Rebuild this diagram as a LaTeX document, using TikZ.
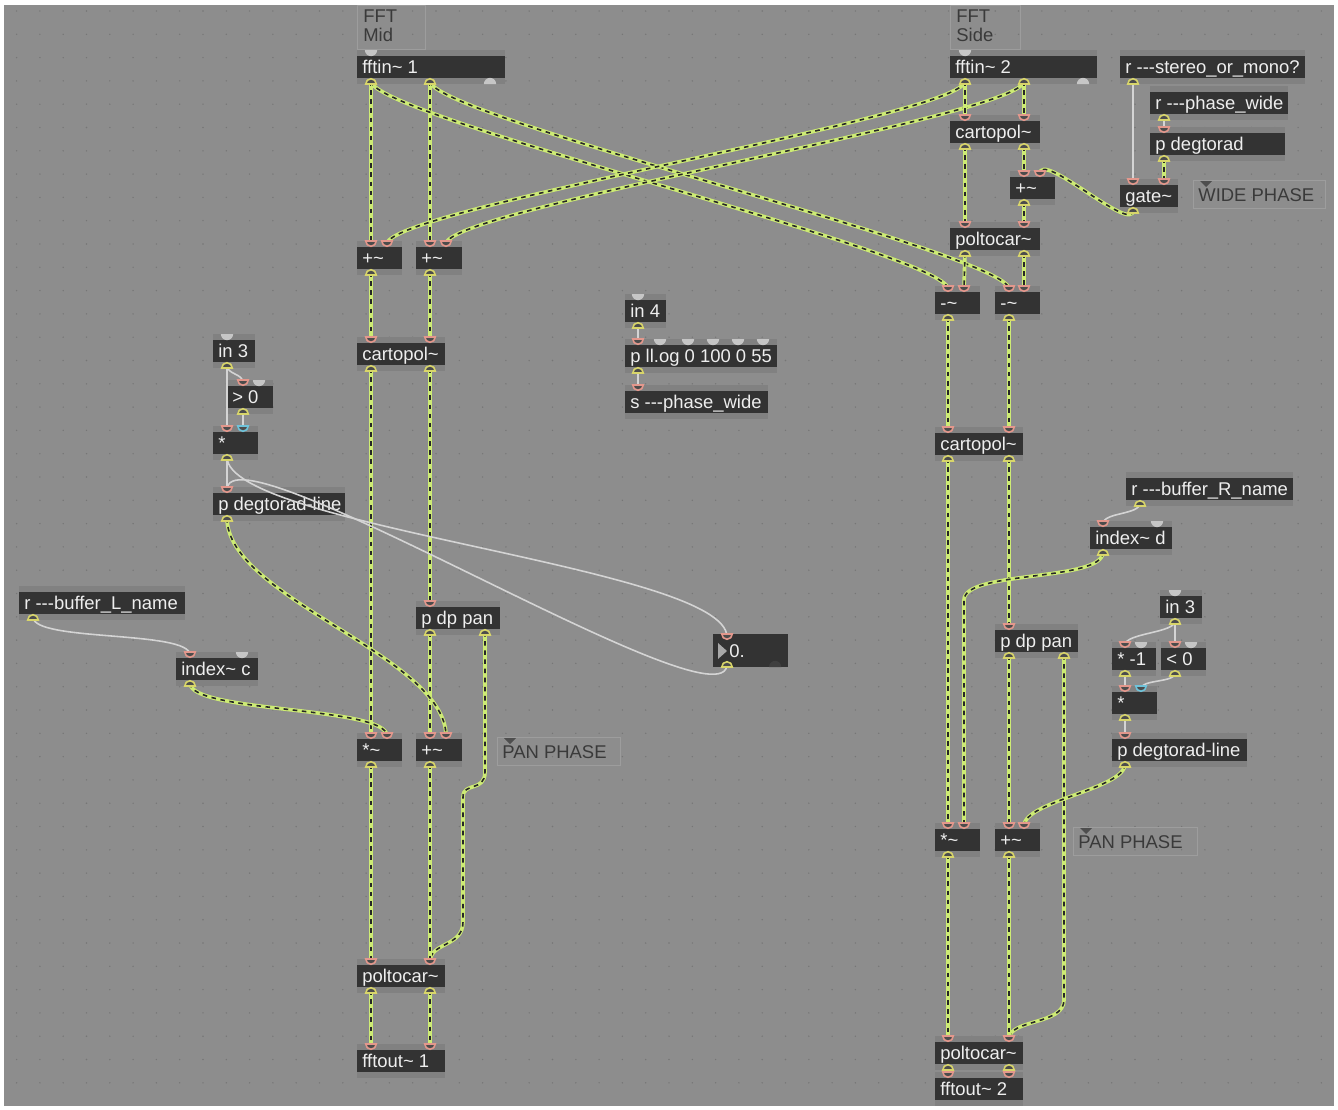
\documentclass[tikz,border=0pt]{standalone}
\usepackage{fontspec}
\setmainfont{Liberation Sans}
\usetikzlibrary{calc}
\definecolor{patchbg}{HTML}{8D8D8D}
\definecolor{band}{HTML}{818181}
\definecolor{objfill}{HTML}{333333}
\definecolor{objtext}{HTML}{EEEEEE}
\definecolor{sigcol}{HTML}{CDEB74}
\definecolor{ctlcol}{HTML}{D4D4D4}
\definecolor{inpink}{HTML}{E3978C}
\definecolor{outyel}{HTML}{D8D56A}
\definecolor{inblue}{HTML}{6FC3DA}
\definecolor{offgray}{HTML}{C6C6C6}
\definecolor{cmttext}{HTML}{3A3A3A}
\definecolor{griddot}{HTML}{767676}

\pgfdeclarelayer{ports}
\pgfsetlayers{main,ports}

\newcommand\tild{\textasciitilde}
\newcommand\dashes{-{}-{}-}
% object: name, x1, y1, x2, y2, label (pixel units)
\newcommand\maxobj[6]{%
  \node[objbox, anchor=north west, minimum width={(#4-#2)*0.02cm},
    minimum height={(#5-#3)*0.02cm}] (#1) at (#2,#3) {};
  \fill[objfill] (#2,#3+6) rectangle (#4,#5-6);
  \node[objlabel, anchor=base west] (#1-t) at ({#2+5},{(#3+#5)/2+6}) {#6};
}
\newcommand\inl[4][inport]{%
  \coordinate (#2) at (#3,#4+3);
  \begin{pgfonlayer}{ports}
  \filldraw[#1] (#3,#4) ++(-3pt,0) arc[start angle=180, end angle=360, radius=3pt] -- cycle;
  \end{pgfonlayer}}
\newcommand\outl[3]{%
  \coordinate (#1) at (#2,#3-3);
  \begin{pgfonlayer}{ports}
  \filldraw[outport] (#2,#3) ++(-3pt,0) arc[start angle=180, end angle=0, radius=3pt] -- cycle;
  \end{pgfonlayer}}
\newcommand\offin[2]{%
  \fill[offgray] (#1,#2) ++(-3.5pt,0) arc[start angle=180, end angle=360, radius=3.5pt] -- cycle;}
\newcommand\offout[2]{%
  \fill[offgray] (#1,#2) ++(-3.5pt,0) arc[start angle=180, end angle=0, radius=3.5pt] -- cycle;}
\newcommand\cmttri[2]{%
  \fill[black!45!patchbg] (#1,#2) -- ++(12,0) -- ++(-6,6) -- cycle;}

\begin{document}
\begin{tikzpicture}[
  x=0.02cm, y=-0.02cm,
  objbox/.style={fill=band, inner sep=0pt, outer sep=0pt},
  objlabel/.style={text=objtext, inner sep=0pt, font=\fontsize{10.5}{12}\selectfont},
  cmtbox/.style={draw=white!14!patchbg, line width=0.5pt, inner sep=0pt},
  cmtlabel/.style={text=cmttext, inner sep=0pt, align=left,
    font=\fontsize{10.5}{10.8}\selectfont},
  inport/.style={draw=inpink, fill=black!70, line width=0.9pt},
  blueport/.style={draw=inblue, fill=black!70, line width=0.9pt},
  outport/.style={draw=outyel, fill=black!70, line width=0.9pt},
  sig/.style={draw=sigcol, line width=2.1pt,
    postaction={draw=black!85, line width=0.9pt, dash pattern=on 2.6pt off 2.6pt}},
  ctl/.style={draw=ctlcol, line width=0.9pt}
]
\useasboundingbox (0,0) rectangle (1338,1109);
\fill[white] (0,0) rectangle (1338,1109);
\fill[patchbg] (4,5) rectangle (1334,1106);
\foreach \i in {0,...,56}
  \foreach \j in {0,...,46}
    \fill[griddot] (16.6+\i*23.3,11+\j*23.3) circle (0.45pt);

% comments
\node[cmtbox, anchor=north west, minimum width=1.36cm, minimum height=0.88cm] (cmtMid) at (357,5) {};
\node[cmtlabel, anchor=north west] (cmtMid-t) at (363,9) {FFT\\Mid};
\node[cmtbox, anchor=north west, minimum width=1.4cm, minimum height=0.88cm] (cmtSide) at (950,5) {};
\node[cmtlabel, anchor=north west] (cmtSide-t) at (956,9) {FFT\\Side};
\node[cmtbox, anchor=north west, minimum width=2.64cm, minimum height=0.56cm] (cmtWide) at (1193,180) {};
\node[cmtlabel, anchor=base west] (cmtWide-t) at (1198,201) {WIDE PHASE};
\cmttri{1200}{181}
\node[cmtbox, anchor=north west, minimum width=2.46cm, minimum height=0.56cm] (cmtPanM) at (497,737) {};
\node[cmtlabel, anchor=base west] (cmtPanM-t) at (502,758) {PAN PHASE};
\cmttri{504}{738}
\node[cmtbox, anchor=north west, minimum width=2.48cm, minimum height=0.56cm] (cmtPanS) at (1073,827) {};
\node[cmtlabel, anchor=base west] (cmtPanS-t) at (1078,848) {PAN PHASE};
\cmttri{1080}{828}

% mid column
\maxobj{fftinM}{357}{50}{505}{84}{fftin\tild\ 1}
\offin{371}{50} \outl{fftinM-o0}{371}{84} \outl{fftinM-o1}{430}{84} \offout{490}{84}
\maxobj{addML}{357}{241}{402}{275}{+\tild}
\inl{addML-i0}{371}{241} \inl{addML-i1}{387}{241} \outl{addML-o}{371}{275}
\maxobj{addMR}{416}{241}{462}{275}{+\tild}
\inl{addMR-i0}{430}{241} \inl{addMR-i1}{446}{241} \outl{addMR-o}{430}{275}
\maxobj{cartM}{357}{337}{445}{371}{cartopol\tild}
\inl{cartM-i0}{371}{337} \inl{cartM-i1}{430}{337} \outl{cartM-o0}{371}{371} \outl{cartM-o1}{430}{371}
\maxobj{panM}{416}{601}{500}{635}{p dp pan}
\inl{panM-i}{430}{601} \outl{panM-o0}{430}{635} \outl{panM-o1}{485}{635}
\maxobj{mulM}{357}{733}{402}{767}{*\tild}
\inl{mulM-i0}{371}{733} \inl{mulM-i1}{387}{733} \outl{mulM-o}{371}{767}
\maxobj{addM}{416}{733}{462}{767}{+\tild}
\inl{addM-i0}{430}{733} \inl{addM-i1}{446}{733} \outl{addM-o}{430}{767}
\maxobj{polM}{357}{959}{445}{993}{poltocar\tild}
\inl{polM-i0}{371}{959} \inl{polM-i1}{430}{959} \outl{polM-o0}{371}{993} \outl{polM-o1}{430}{993}
\maxobj{outM}{357}{1044}{445}{1078}{fftout\tild\ 1}
\inl{outM-i0}{371}{1044} \inl{outM-i1}{430}{1044}

% left pan control
\maxobj{in3L}{213}{334}{255}{368}{in 3}
\offin{227}{334} \outl{in3L-o}{227}{368}
\maxobj{gt0}{227}{380}{273}{414}{> 0}
\inl{gt0-i0}{243}{380} \offin{259}{380} \outl{gt0-o}{243}{414}
\maxobj{mulL}{213}{426}{258}{460}{*}
\inl{mulL-i0}{227}{426} \inl[blueport]{mulL-i1}{243}{426} \outl{mulL-o}{227}{460}
\maxobj{dtlL}{213}{487}{345}{521}{p degtorad-line}
\inl{dtlL-i}{227}{487} \outl{dtlL-o}{227}{521}
\maxobj{rBufL}{19}{586}{185}{620}{r \dashes buffer\_L\_name}
\outl{rBufL-o}{33}{620}
\maxobj{idxC}{176}{652}{258}{686}{index\tild\ c}
\inl{idxC-i0}{190}{652} \offin{242}{652} \outl{idxC-o}{190}{686}
\node[objbox, fill=objfill, anchor=north west, minimum width=1.5cm, minimum height=0.66cm] (numbox) at (713,634) {};
\fill[offgray!85!black] (718,643) -- (727,651) -- (718,659) -- cycle;
\node[objlabel, anchor=base west] (numbox-t) at (729,657) {0.};
\inl{numbox-i}{727}{634} \outl{numbox-o}{727}{667}
\fill[black!55!patchbg] (769,667) arc[start angle=180, end angle=0, radius=3.5pt] -- cycle;

% centre
\maxobj{in4}{625}{294}{666}{328}{in 4}
\offin{638}{294} \outl{in4-o}{638}{328}
\maxobj{pllog}{625}{339}{777}{373}{p ll.og 0 100 0 55}
\inl{pllog-i}{638}{339} \offin{660}{339} \offin{688}{339} \offin{713}{339} \offin{738}{339} \offin{763}{339}
\outl{pllog-o}{638}{373}
\maxobj{sWide}{625}{385}{768}{419}{s \dashes phase\_wide}
\inl{sWide-i}{638}{385}

% side column
\maxobj{fftinS}{950}{50}{1097}{84}{fftin\tild\ 2}
\offin{965}{50} \outl{fftinS-o0}{965}{84} \outl{fftinS-o1}{1024}{84} \offout{1083}{84}
\maxobj{cartS1}{950}{115}{1040}{149}{cartopol\tild}
\inl{cartS1-i0}{965}{115} \inl{cartS1-i1}{1024}{115} \outl{cartS1-o0}{965}{149} \outl{cartS1-o1}{1024}{149}
\maxobj{addS}{1010}{171}{1055}{205}{+\tild}
\inl{addS-i0}{1024}{171} \inl{addS-i1}{1040}{171} \outl{addS-o}{1024}{205}
\maxobj{polS1}{950}{222}{1040}{256}{poltocar\tild}
\inl{polS1-i0}{965}{222} \inl{polS1-i1}{1024}{222} \outl{polS1-o0}{965}{256} \outl{polS1-o1}{1024}{256}
\maxobj{subL}{935}{286}{980}{320}{-\tild}
\inl{subL-i0}{948}{286} \inl{subL-i1}{964}{286} \outl{subL-o}{948}{320}
\maxobj{subR}{995}{286}{1040}{320}{-\tild}
\inl{subR-i0}{1009}{286} \inl{subR-i1}{1024}{286} \outl{subR-o}{1009}{320}
\maxobj{cartS2}{935}{427}{1023}{461}{cartopol\tild}
\inl{cartS2-i0}{948}{427} \inl{cartS2-i1}{1009}{427} \outl{cartS2-o0}{948}{461} \outl{cartS2-o1}{1009}{461}
\maxobj{panS}{995}{624}{1078}{658}{p dp pan}
\inl{panS-i}{1009}{624} \outl{panS-o0}{1009}{658} \outl{panS-o1}{1064}{658}
\maxobj{mulS}{935}{823}{980}{857}{*\tild}
\inl{mulS-i0}{948}{823} \inl{mulS-i1}{964}{823} \outl{mulS-o}{948}{857}
\maxobj{addS2}{995}{823}{1040}{857}{+\tild}
\inl{addS2-i0}{1009}{823} \inl{addS2-i1}{1024}{823} \outl{addS2-o}{1009}{857}
\maxobj{polS2}{935}{1036}{1023}{1070}{poltocar\tild}
\inl{polS2-i0}{948}{1036} \inl{polS2-i1}{1009}{1036} \outl{polS2-o0}{948}{1070} \outl{polS2-o1}{1009}{1070}
\maxobj{outS}{935}{1072}{1023}{1106}{fftout\tild\ 2}
\inl{outS-i0}{948}{1072} \inl{outS-i1}{1009}{1072}

% wide phase
\maxobj{rStereo}{1120}{50}{1305}{84}{r \dashes stereo\_or\_mono?}
\outl{rStereo-o}{1133}{84}
\maxobj{rWide}{1150}{86}{1288}{120}{r \dashes phase\_wide}
\outl{rWide-o}{1164}{120}
\maxobj{pDeg}{1150}{127}{1285}{161}{p degtorad}
\inl{pDeg-i}{1164}{127} \outl{pDeg-o}{1164}{161}
\maxobj{gate}{1120}{179}{1178}{213}{gate\tild}
\inl{gate-i0}{1133}{179} \inl{gate-i1}{1164}{179} \outl{gate-o}{1133}{213}

% right pan control
\maxobj{rBufR}{1126}{472}{1293}{506}{r \dashes buffer\_R\_name}
\outl{rBufR-o}{1140}{506}
\maxobj{idxD}{1090}{521}{1172}{555}{index\tild\ d}
\inl{idxD-i0}{1103}{521} \offin{1157}{521} \outl{idxD-o}{1103}{555}
\maxobj{in3R}{1160}{590}{1202}{624}{in 3}
\offin{1175}{590} \outl{in3R-o}{1175}{624}
\maxobj{mulNeg}{1112}{642}{1156}{676}{* -1}
\inl{mulNeg-i0}{1125}{642} \offin{1141}{642} \outl{mulNeg-o}{1125}{676}
\maxobj{lt0}{1161}{642}{1206}{676}{< 0}
\inl{lt0-i0}{1175}{642} \offin{1191}{642} \outl{lt0-o}{1175}{676}
\maxobj{mulR}{1112}{686}{1157}{720}{*}
\inl{mulR-i0}{1125}{686} \inl[blueport]{mulR-i1}{1141}{686} \outl{mulR-o}{1125}{720}
\maxobj{dtlR}{1112}{733}{1247}{767}{p degtorad-line}
\inl{dtlR-i}{1125}{733} \outl{dtlR-o}{1125}{767}

% signal cords
\draw[sig] (fftinM-o0) -- (addML-i0);
\draw[sig] (fftinM-o1) -- (addMR-i0);
\draw[sig] (fftinM-o0) .. controls +(0,35) and +(0,-35) .. (subL-i0);
\draw[sig] (fftinM-o1) .. controls +(0,35) and +(0,-35) .. (subR-i0);
\draw[sig] (fftinS-o0) .. controls +(0,35) and +(0,-35) .. (addML-i1);
\draw[sig] (fftinS-o1) .. controls +(0,35) and +(0,-35) .. (addMR-i1);
\draw[sig] (fftinS-o0) -- (cartS1-i0);
\draw[sig] (fftinS-o1) -- (cartS1-i1);
\draw[sig] (cartS1-o0) -- (polS1-i0);
\draw[sig] (cartS1-o1) -- (addS-i0);
\draw[sig] (gate-o) .. controls +(0,25) and +(0,-25) .. (addS-i1);
\draw[sig] (addS-o) -- (polS1-i1);
\draw[sig] (pDeg-o) -- (gate-i1);
\draw[sig] (polS1-o0) -- (subL-i1);
\draw[sig] (polS1-o1) -- (subR-i1);
\draw[sig] (subL-o) -- (cartS2-i0);
\draw[sig] (subR-o) -- (cartS2-i1);
\draw[sig] (cartS2-o0) -- (mulS-i0);
\draw[sig] (cartS2-o1) -- (panS-i);
\draw[sig] (idxD-o) .. controls +(0,30) and +(0,-30) .. ($(mulS-i1)+(0,-226)$) -- (mulS-i1);
\draw[sig] (panS-o0) -- (addS2-i0);
\draw[sig] (panS-o1) -- ++(0,345) .. controls +(0,25) and +(0,-20) .. (polS2-i1);
\draw[sig] (dtlR-o) .. controls +(0,25) and +(0,-25) .. (addS2-i1);
\draw[sig] (mulS-o) -- (polS2-i0);
\draw[sig] (addS2-o) -- (polS2-i1);
\draw[sig] (polS2-o0) -- (outS-i0);
\draw[sig] (polS2-o1) -- (outS-i1);
\draw[sig] (addML-o) -- (cartM-i0);
\draw[sig] (addMR-o) -- (cartM-i1);
\draw[sig] (cartM-o0) -- (mulM-i0);
\draw[sig] (cartM-o1) -- (panM-i);
\draw[sig] (panM-o0) -- (addM-i0);
\draw[sig] (panM-o1) -- ++(0,140) .. controls +(0,20) and +(0,-15) .. ++(-22,25) -- ++(0,125)
  .. controls +(0,25) and +(0,-20) .. (polM-i1);
\draw[sig] (idxC-o) .. controls +(0,30) and +(0,-30) .. (mulM-i1);
\draw[sig] (dtlL-o) .. controls +(0,80) and +(0,-80) .. (addM-i1);
\draw[sig] (mulM-o) -- (polM-i0);
\draw[sig] (addM-o) -- (polM-i1);
\draw[sig] (polM-o0) -- (outM-i0);
\draw[sig] (polM-o1) -- (outM-i1);

% control cords
\draw[ctl] (rStereo-o) -- (gate-i0);
\draw[ctl] (rWide-o) -- (pDeg-i);
\draw[ctl] (in3L-o) .. controls +(0,10) and +(0,-10) .. (gt0-i0);
\draw[ctl] (in3L-o) -- (mulL-i0);
\draw[ctl] (gt0-o) -- (mulL-i1);
\draw[ctl] (mulL-o) -- (dtlL-i);
\draw[ctl] (mulL-o) .. controls +(0,70) and +(0,-70) .. (numbox-i);
\draw[ctl] (numbox-o) .. controls +(0,70) and +(0,-70) .. (dtlL-i);
\draw[ctl] (rBufL-o) .. controls +(0,25) and +(0,-25) .. (idxC-i0);
\draw[ctl] (rBufR-o) .. controls +(0,12) and +(0,-12) .. (idxD-i0);
\draw[ctl] (in3R-o) .. controls +(0,12) and +(0,-12) .. (mulNeg-i0);
\draw[ctl] (in3R-o) -- (lt0-i0);
\draw[ctl] (mulNeg-o) -- (mulR-i0);
\draw[ctl] (lt0-o) .. controls +(0,10) and +(0,-10) .. (mulR-i1);
\draw[ctl] (mulR-o) -- (dtlR-i);
\draw[ctl] (in4-o) -- (pllog-i);
\draw[ctl] (pllog-o) -- (sWide-i);
\end{tikzpicture}
\end{document}
